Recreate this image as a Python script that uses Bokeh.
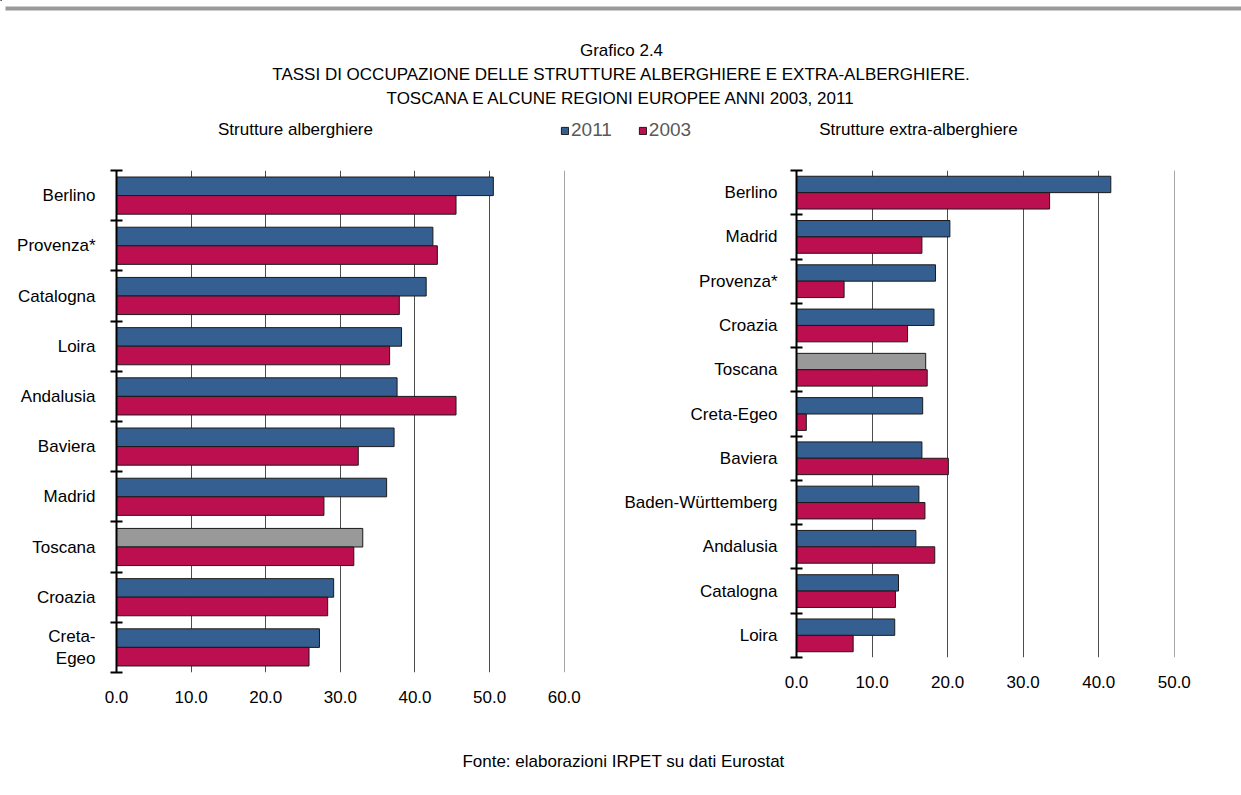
from bokeh.plotting import figure
from bokeh.layouts import column, row
from bokeh.models import (ColumnDataSource, Range1d, LinearAxis, FixedTicker, CustomJSTickFormatter,
                          PrintfTickFormatter, Label, Legend, LegendItem, BoxAnnotation, Grid)
from bokeh.embed import file_html
from bokeh.resources import INLINE

# ---------------- data ----------------
hotel_regions = ["Berlino", "Provenza*", "Catalogna", "Loira", "Andalusia", "Baviera",
                 "Madrid", "Toscana", "Croazia", "Creta-\nEgeo"]
hotel_2011 = [50.5, 42.4, 41.5, 38.2, 37.6, 37.2, 36.2, 33.0, 29.1, 27.2]
hotel_2003 = [45.5, 43.0, 37.9, 36.6, 45.5, 32.4, 27.8, 31.8, 28.3, 25.8]

extra_regions = ["Berlino", "Madrid", "Provenza*", "Croazia", "Toscana", "Creta-Egeo",
                 "Baviera", "Baden-Württemberg", "Andalusia", "Catalogna", "Loira"]
extra_2011 = [41.6, 20.3, 18.4, 18.2, 17.1, 16.7, 16.6, 16.2, 15.8, 13.5, 13.0]
extra_2003 = [33.5, 16.6, 6.3, 14.7, 17.3, 1.3, 20.1, 17.0, 18.3, 13.1, 7.5]

hotel_xticks = [0, 10, 20, 30, 40, 50, 60]
extra_xticks = [0, 10, 20, 30, 40, 50]
series_labels = ["2011", "2003"]
highlight = "Toscana"

title_lines = ["Grafico 2.4",
               "TASSI DI OCCUPAZIONE DELLE STRUTTURE ALBERGHIERE E EXTRA-ALBERGHIERE.",
               "TOSCANA E ALCUNE REGIONI EUROPEE ANNI 2003, 2011"]
subtitles = ["Strutture alberghiere", "Strutture extra-alberghiere"]
source_note = "Fonte: elaborazioni IRPET su dati Eurostat"

# ---------------- style ----------------
FONT = "Liberation Sans"
FS = "17px"
BLUE = "#365F91"
RED = "#BC0F50"
GRAY = "#999999"
EDGE = "#1A1A1A"
GRID = "#4D4D4D"
BAR_H = 0.37
OFF = 0.185
W = 1241


def chart(regions, v2011, v2003, xticks, width, height, mbl, mbr, standoff):
    n = len(regions)
    xmax = xticks[-1]
    p = figure(width=width, height=height, x_range=Range1d(0, xmax * 1.0006), y_range=Range1d(n, 0),
               toolbar_location=None, output_backend="svg",
               x_axis_location=None, y_axis_location=None,
               min_border_left=mbl, min_border_right=mbr, min_border_top=20, min_border_bottom=68)
    p.outline_line_color = None
    p.background_fill_color = "white"
    p.border_fill_color = "white"
    p.center = [c for c in p.center if not isinstance(c, Grid)]

    p.add_layout(Grid(dimension=0, ticker=FixedTicker(ticks=xticks[1:]),
                      grid_line_color=GRID, grid_line_width=1))

    idx = list(range(n))
    col11 = [GRAY if r == highlight else BLUE for r in regions]
    s11 = ColumnDataSource(dict(y=[i + 0.5 - OFF for i in idx], v=v2011, c=col11))
    s03 = ColumnDataSource(dict(y=[i + 0.5 + OFF for i in idx], v=v2003))
    p.hbar(y="y", left=0, right="v", height=BAR_H, source=s11,
           fill_color="c", line_color=EDGE, line_width=1)
    p.hbar(y="y", left=0, right="v", height=BAR_H, source=s03,
           fill_color=RED, line_color=EDGE, line_width=1)

    yaxis = LinearAxis(
        ticker=FixedTicker(ticks=[i + 0.5 for i in idx], minor_ticks=list(range(n + 1))),
        formatter=CustomJSTickFormatter(args=dict(labels=regions),
                                        code="return labels[Math.floor(tick)];"),
        major_tick_line_color=None, major_tick_in=0, major_tick_out=0,
        minor_tick_in=6, minor_tick_out=6, minor_tick_line_width=2, minor_tick_line_color="black",
        axis_line_width=2, axis_line_color="black",
        major_label_standoff=standoff, major_label_text_font=FONT,
        major_label_text_font_size=FS, major_label_text_color="black")
    p.add_layout(yaxis, "left")

    xaxis = LinearAxis(
        ticker=FixedTicker(ticks=xticks), formatter=PrintfTickFormatter(format="%.1f"),
        axis_line_color=None, major_tick_line_color=None, minor_tick_line_color=None,
        major_tick_in=0, major_tick_out=0, minor_tick_in=0, minor_tick_out=0,
        major_label_standoff=18, major_label_text_font=FONT,
        major_label_text_font_size=FS, major_label_text_color="black")
    p.add_layout(xaxis, "below")
    return p


def blank(height, y_top):
    p = figure(width=W, height=height, x_range=Range1d(0, W),
               y_range=Range1d(y_top + height, y_top),
               toolbar_location=None, output_backend="svg",
               x_axis_location=None, y_axis_location=None, min_border=0)
    p.outline_line_color = None
    p.center = [c for c in p.center if not isinstance(c, Grid)]
    return p


# ---------------- header ----------------
hdr = blank(150, 0)
hdr.add_layout(BoxAnnotation(left=5, right=W, top=6, bottom=10,
                             fill_color="#999999", fill_alpha=1, line_color=None))
for txt, yy in zip(title_lines, [50, 74, 98]):
    hdr.add_layout(Label(x=621, y=yy, text=txt, text_align="center", text_baseline="middle",
                         text_font=FONT, text_font_size=FS, text_color="black"))
for txt, xx in zip(subtitles, [295, 918]):
    hdr.add_layout(Label(x=xx, y=129, text=txt, text_align="center", text_baseline="middle",
                         text_font=FONT, text_font_size=FS, text_color="black"))

# legend-only renderers (kept out of the visible header area)
r1 = hdr.hbar(y=[-1000], right=[1], left=0, height=1, fill_color=BLUE, line_color=EDGE)
r2 = hdr.hbar(y=[-1000], right=[1], left=0, height=1, fill_color=RED, line_color=EDGE)
legend = Legend(items=[LegendItem(label=series_labels[0], renderers=[r1]),
                       LegendItem(label=series_labels[1], renderers=[r2])],
                location=(560, 9), orientation="horizontal",
                glyph_width=9, glyph_height=9, label_standoff=2, spacing=26,
                padding=0, margin=0, border_line_color=None, background_fill_alpha=0,
                label_text_font=FONT, label_text_font_size="19px", label_text_color="#595959",
                label_height=20)
hdr.add_layout(legend)

# ---------------- charts ----------------
left = chart(hotel_regions, hotel_2011, hotel_2003, hotel_xticks,
             width=600, height=590, mbl=116, mbr=36, standoff=15)
right = chart(extra_regions, extra_2011, extra_2003, extra_xticks,
              width=W - 600, height=575, mbl=196, mbr=67, standoff=13)

# ---------------- footer ----------------
ftr = blank(55, 740)
ftr.add_layout(Label(x=623, y=761, text=source_note, text_align="center", text_baseline="middle",
                     text_font=FONT, text_font_size=FS, text_color="black"))

layout = column(hdr, row(left, right), ftr)
open("out.html", "w").write(file_html(layout, INLINE))
